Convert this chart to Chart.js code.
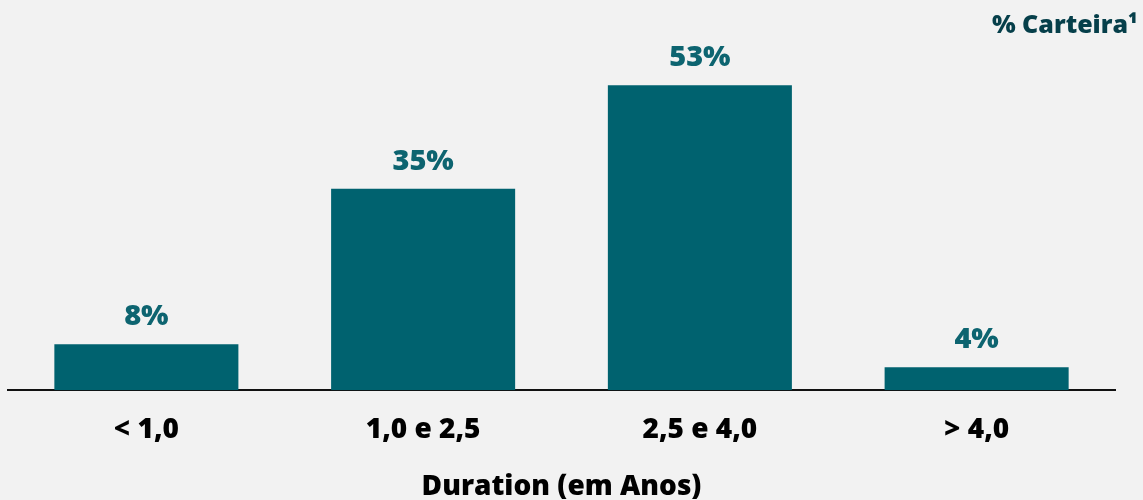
<!DOCTYPE html>
<html>
<head>
<meta charset="utf-8">
<script src="https://cdn.jsdelivr.net/npm/chart.js@4/dist/chart.umd.min.js"></script>
<style>
  html, body { margin: 0; padding: 0; background: #f2f2f2; }
  #wrap { width: 1143px; height: 500px; }
</style>
</head>
<body>
<div id="wrap"><canvas id="chart"></canvas></div>
<script>
const categories = ['< 1,0', '1,0 e 2,5', '2,5 e 4,0', '> 4,0'];
const carteira = [8, 35, 53, 4];
const valueLabels = ['8%', '35%', '53%', '4%'];
const FONT = "'Open Sans', sans-serif";

// value labels above bars and the corner caption
const labelsPlugin = {
  id: 'labels',
  afterDatasetsDraw(chart) {
    const ctx = chart.ctx
    const meta = chart.getDatasetMeta(0)
    ctx.save()
    ctx.font = "800 29px " + FONT
    ctx.fillStyle = '#0d6470'
    ctx.textAlign = 'center'
    ctx.textBaseline = 'alphabetic'
    meta.data.forEach((bar, i) => {
      ctx.fillText(valueLabels[i], bar.x, bar.y - 19)
    })
    ctx.font = "800 25px " + FONT
    ctx.fillStyle = '#063f4a'
    ctx.textAlign = 'right'
    ctx.fillText('% Carteira¹', chart.width - 5, 33)
    ctx.restore()
  }
}

new Chart(document.getElementById('chart'), {
  type: 'bar',
  data: {
    labels: categories,
    datasets: [{
      label: '% Carteira',
      data: carteira,
      backgroundColor: '#00626f',
      categoryPercentage: 1,
      barPercentage: 0.665
    }]
  },
  options: {
    responsive: true,
    maintainAspectRatio: false,
    animation: false,
    layout: { padding: { top: 45, left: 8, right: 28, bottom: 0 } },
    plugins: {
      legend: { display: false },
      tooltip: { enabled: false }
    },
    scales: {
      y: {
        display: false,
        min: 0,
        max: 60
      },
      x: {
        grid: { display: false },
        border: { display: true, color: '#111', width: 2 },
        ticks: {
          color: '#000',
          font: { family: FONT, size: 28, weight: 800 },
          padding: 15
        },
        title: {
          display: true,
          text: 'Duration (em Anos)',
          color: '#000',
          font: { family: FONT, size: 28, weight: 800, lineHeight: 0.95 },
          padding: { top: 11.6, bottom: 0 }
        }
      }
    }
  },
  plugins: [labelsPlugin]
});
</script>
</body>
</html>
